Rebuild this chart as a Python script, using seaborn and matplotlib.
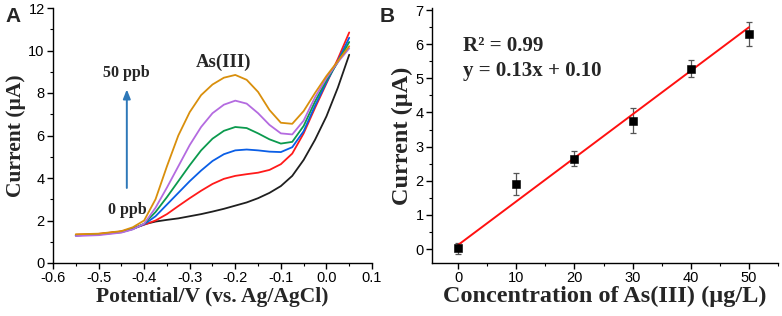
import numpy as np
import pandas as pd
import matplotlib
matplotlib.use("Agg")
import matplotlib.pyplot as plt
from matplotlib.ticker import MultipleLocator
import seaborn as sns

# ---------------- data: panel A (stripping voltammograms) ----------------
potential = [-0.55, -0.5, -0.45, -0.425, -0.4, -0.375, -0.35, -0.325, -0.3, -0.275,
             -0.25, -0.225, -0.2, -0.175, -0.15, -0.125, -0.1, -0.075, -0.05, -0.025,
             0.0, 0.025, 0.05]
i_0ppb = [1.30, 1.35, 1.48, 1.62, 1.82, 1.95, 2.03, 2.10, 2.20, 2.30, 2.42, 2.55, 2.70,
          2.85, 3.05, 3.30, 3.62, 4.10, 4.85, 5.80, 6.90, 8.25, 9.80]
i_10ppb = [1.33, 1.37, 1.48, 1.62, 1.80, 2.00, 2.30, 2.68, 3.05, 3.40, 3.72, 3.96, 4.10,
           4.18, 4.25, 4.38, 4.65, 5.15, 6.10, 7.30, 8.45, 9.60, 10.85]
i_20ppb = [1.30, 1.35, 1.46, 1.60, 1.82, 2.20, 2.75, 3.30, 3.85, 4.35, 4.80, 5.12, 5.30,
           5.34, 5.30, 5.24, 5.22, 5.45, 6.20, 7.40, 8.50, 9.50, 10.60]
i_30ppb = [1.30, 1.34, 1.45, 1.60, 1.85, 2.40, 3.10, 3.85, 4.60, 5.30, 5.85, 6.22, 6.40,
           6.35, 6.10, 5.82, 5.62, 5.70, 6.45, 7.60, 8.60, 9.45, 10.40]
i_40ppb = [1.27, 1.31, 1.43, 1.58, 1.85, 2.60, 3.55, 4.55, 5.55, 6.40, 7.05, 7.45, 7.64,
           7.50, 7.05, 6.50, 6.10, 6.05, 6.70, 7.80, 8.70, 9.45, 10.10]
i_50ppb = [1.35, 1.38, 1.50, 1.68, 2.00, 3.00, 4.55, 6.00, 7.10, 7.90, 8.40, 8.72, 8.85,
           8.62, 8.05, 7.20, 6.60, 6.55, 7.15, 8.00, 8.80, 9.50, 10.20]
curve_labels = ["0 ppb", "10 ppb", "20 ppb", "30 ppb", "40 ppb", "50 ppb"]
curve_colors = ["#1f1f1f", "#ff1a1a", "#0a5ee6", "#0b9a4e", "#b46be0", "#d98f0c"]

# ---------------- data: panel B (calibration) ----------------
conc = [0, 10, 20, 30, 40, 50]
current_mean = [0.02, 1.90, 2.65, 3.76, 5.28, 6.29]
current_err = [0.17, 0.32, 0.23, 0.37, 0.25, 0.35]
fit_slope = 0.1275
fit_intercept = 0.12
fit_x = [0, 50]

# ---------------- style ----------------
sns.set_theme(style="ticks")
plt.rcParams["font.family"] = ["Liberation Sans", "DejaVu Sans"]
serif = ["Liberation Serif", "DejaVu Serif"]

fig = plt.figure(figsize=(7.82, 3.16), dpi=100)
W, H = 782, 316
axA = fig.add_axes([53 / W, (H - 263) / H, 319 / W, 255 / H])
axB = fig.add_axes([432 / W, (H - 263) / H, 346 / W, 255 / H])

# ---------------- panel A ----------------
rows = []
for lab, arr in zip(curve_labels, [i_0ppb, i_10ppb, i_20ppb, i_30ppb, i_40ppb, i_50ppb]):
    for v, c in zip(potential, arr):
        rows.append({"potential": v, "current": c, "conc": lab})
dfA = pd.DataFrame(rows)
sns.lineplot(data=dfA, x="potential", y="current", hue="conc", hue_order=curve_labels,
             palette=curve_colors, linewidth=1.3, legend=False, ax=axA, sort=False)

axA.set_xlim(-0.6, 0.1)
axA.set_ylim(0, 12)
axA.xaxis.set_major_locator(MultipleLocator(0.1))
axA.xaxis.set_minor_locator(MultipleLocator(0.05))
axA.yaxis.set_major_locator(MultipleLocator(2))
axA.yaxis.set_minor_locator(MultipleLocator(1))
axA.set_xticklabels([f"{t:.1f}" for t in axA.get_xticks()])

axA.annotate("", xy=(-0.438, 8.3), xytext=(-0.438, 3.4),
             arrowprops=dict(arrowstyle="-|>,head_length=0.45,head_width=0.18",
                             color="#2e78b8", lw=1.4))
axA.text(-0.44, 8.95, "50 ppb", ha="center", va="center", fontsize=11.5,
         fontweight="bold", family=serif)
axA.text(-0.437, 2.5, "0 ppb", ha="center", va="center", fontsize=11.5,
         fontweight="bold", family=serif)
axA.text(-0.225, 9.45, "As(III)", ha="center", va="center", fontsize=13.5,
         fontweight="bold", family=serif)
axA.set_xlabel("Potential/V (vs. Ag/AgCl)", fontsize=15.5, fontweight="bold",
               family=serif, labelpad=1)
axA.set_ylabel("Current (µA)", fontsize=15.5, fontweight="bold", family=serif, labelpad=2)

# ---------------- panel B ----------------
dfB = pd.DataFrame({"conc": conc, "current": current_mean, "err": current_err})
axB.errorbar(dfB["conc"], dfB["current"], yerr=dfB["err"], fmt="none",
             ecolor="#555555", elinewidth=0.9, capsize=2.2, capthick=0.9, zorder=2)
fit_df = pd.DataFrame({"x": fit_x,
                       "y": [fit_slope * x + fit_intercept for x in fit_x]})
sns.lineplot(data=fit_df, x="x", y="y", color="#ff1010", linewidth=1.4, ax=axB, zorder=3)
sns.scatterplot(data=dfB, x="conc", y="current", marker="s", s=26, color="black",
                edgecolor="black", ax=axB, zorder=4)

axB.set_xlim(-4.5, 55)
axB.set_ylim(-0.41, 7.06)
axB.xaxis.set_major_locator(MultipleLocator(10))
axB.xaxis.set_minor_locator(MultipleLocator(5))
axB.yaxis.set_major_locator(MultipleLocator(1))
axB.yaxis.set_minor_locator(MultipleLocator(0.5))
axB.text(0.9, 5.95, "R² = 0.99", ha="left", va="center", fontsize=15,
         fontweight="bold", family=serif)
axB.text(0.9, 5.2, "y = 0.13x + 0.10", ha="left", va="center", fontsize=15,
         fontweight="bold", family=serif)
axB.set_xlabel("Concentration of As(III) (µg/L)", fontsize=17.5, fontweight="bold",
               family=serif, labelpad=0)
axB.set_ylabel("Current (µA)", fontsize=17.5, fontweight="bold", family=serif, labelpad=2)

for ax in (axA, axB):
    sns.despine(ax=ax)
    for s in ("left", "bottom"):
        ax.spines[s].set_linewidth(1.0)
        ax.spines[s].set_color("black")
    ax.tick_params(which="major", direction="out", length=4, width=1.0,
                   labelsize=10.5, pad=2, colors="black")
    ax.tick_params(which="minor", direction="out", length=2, width=0.8, colors="black")

fig.text(5 / W, 1 - 16 / H, "A", fontsize=15, fontweight="bold", ha="left", va="center")
fig.text(380 / W, 1 - 16 / H, "B", fontsize=15, fontweight="bold", ha="left", va="center")

fig.savefig("out.png", dpi=100)
